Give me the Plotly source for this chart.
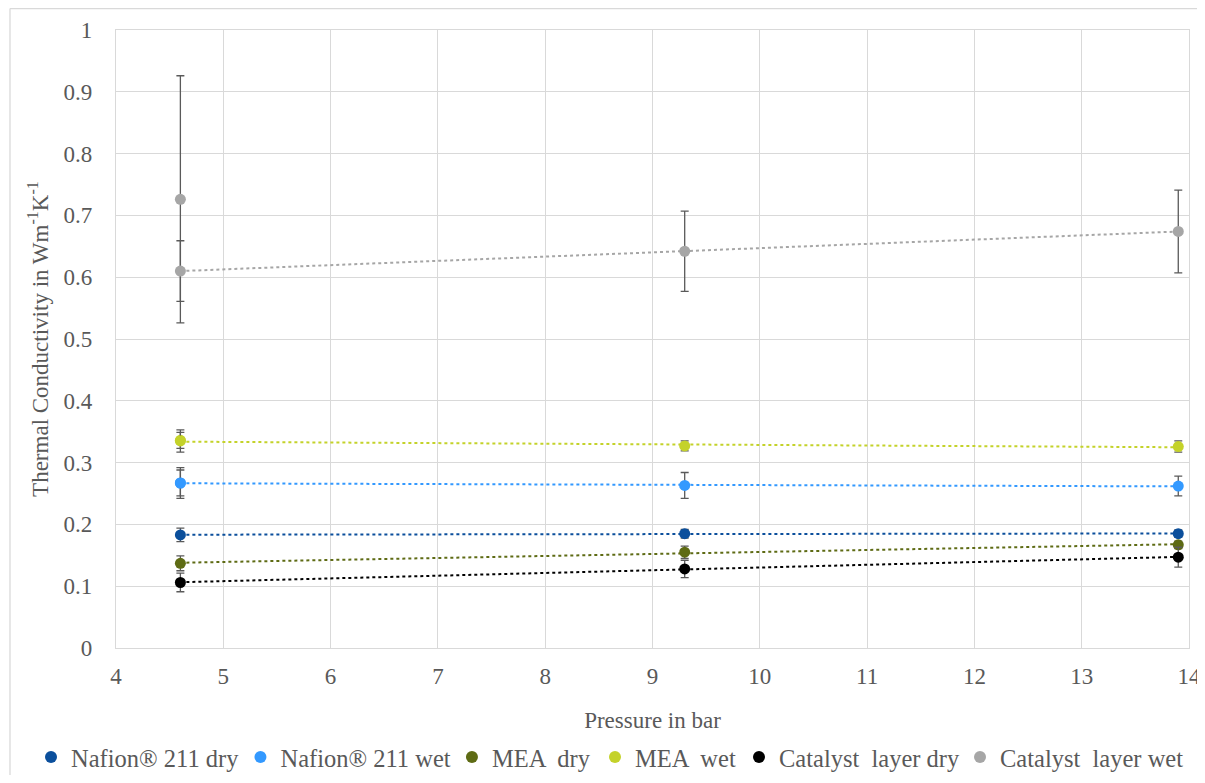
import numpy as np
import plotly.graph_objects as go

pressure = [4.6, 9.3, 13.9]

series_names = ["Nafion® 211 dry", "Nafion® 211 wet", "MEA  dry", "MEA  wet",
                "Catalyst  layer dry", "Catalyst  layer wet"]
colors = ["#0B4F9C", "#3399FF", "#5E6B14", "#C4D22A", "#000000", "#A6A6A6"]

nafion_dry = [0.183, 0.185, 0.185]
nafion_dry_err = [0.011, 0.007, 0.006]
nafion_wet = [0.267, 0.263, 0.262]
nafion_wet_err = [0.025, 0.021, 0.016]
mea_dry = [0.137, 0.155, 0.167]
mea_dry_err = [0.012, 0.010, 0.006]
mea_wet = [0.335, 0.327, 0.326]
mea_wet_err = [0.018, 0.008, 0.009]
cl_dry = [0.106, 0.128, 0.147]
cl_dry_err = [0.015, 0.014, 0.016]
cl_wet = [0.610, 0.642, 0.674]
cl_wet_err = [0.049, 0.065, 0.067]

# additional measurements at the lowest pressure (wet samples)
extra_x = [4.6]
extra_series = [1, 3, 5]          # index into series (Nafion wet, MEA wet, CL wet)
extra_vals = [0.267, 0.336, 0.726]
extra_errs = [0.021, 0.013, 0.200]

values = [nafion_dry, nafion_wet, mea_dry, mea_wet, cl_dry, cl_wet]
errors = [nafion_dry_err, nafion_wet_err, mea_dry_err, mea_wet_err, cl_dry_err, cl_wet_err]

# legend entry left positions (paper fraction), one legend box per entry
legend_x = [-0.0792, 0.1160, 0.3131, 0.4464, 0.5806, 0.7866]

font_family = "Liberation Serif"
text_color = "#595959"
err_color = "#5A5A5A"
grid_color = "#D9D9D9"

fig = go.Figure()

# linear trendlines (behind markers)
for vals, col in zip(values, colors):
    k, d = np.polyfit(pressure, vals, 1)
    xs = np.array([min(pressure), max(pressure)])
    fig.add_trace(go.Scatter(x=xs, y=k * xs + d, mode="lines",
                             line=dict(color=col, width=2, dash="dot"),
                             showlegend=False, hoverinfo="skip"))

for si, v, e in zip(extra_series, extra_vals, extra_errs):
    fig.add_trace(go.Scatter(x=extra_x, y=[v], mode="markers",
                             marker=dict(color=colors[si], size=11),
                             error_y=dict(type="data", array=[e], color=err_color,
                                          thickness=1.3, width=4),
                             showlegend=False))

legend_layouts = {}
for i, (name, vals, errs, col) in enumerate(zip(series_names, values, errors, colors)):
    lname = "legend" if i == 0 else f"legend{i + 1}"
    fig.add_trace(go.Scatter(x=pressure, y=vals, mode="markers", name=name,
                             marker=dict(color=col, size=11),
                             legend=lname,
                             error_y=dict(type="data", array=errs, color=err_color,
                                          thickness=1.3, width=4)))
    legend_layouts[lname] = dict(orientation="h", x=legend_x[i], xanchor="left",
                                 y=-0.1764, yanchor="middle", bgcolor="rgba(0,0,0,0)",
                                 font=dict(family=font_family, size=24.5, color=text_color),
                                 itemsizing="constant", itemwidth=30)

fig.update_layout(
    width=1197, height=767,
    margin=dict(l=108, r=16, t=22, b=127, autoexpand=False),
    paper_bgcolor="white", plot_bgcolor="white",
    font=dict(family=font_family, size=23, color=text_color),
    xaxis=dict(range=[4, 14], dtick=1, showgrid=True, gridcolor=grid_color, gridwidth=1.3,
               zeroline=False, showline=True, linecolor=grid_color, linewidth=1.3, mirror=True,
               ticks="", tickfont=dict(size=23), ticklabelstandoff=7, automargin=False,
               ticklabeloverflow="allow",
               title=dict(text="Pressure in bar", font=dict(size=23), standoff=24)),
    yaxis=dict(range=[0, 1], dtick=0.1, showgrid=True, gridcolor=grid_color, gridwidth=1.3,
               zeroline=False, showline=True, linecolor=grid_color, linewidth=1.3, mirror=True,
               ticks="", tickfont=dict(size=23), ticklabelstandoff=18, automargin=False,
               tickformat="~g",
               title=dict(text="Thermal Conductivity in Wm<sup>-1</sup>K<sup>-1</sup>",
                          font=dict(size=23), standoff=8)),
    showlegend=True,
    **legend_layouts,
)

# outer chart frame
fig.add_shape(type="line", xref="paper", yref="paper", x0=-0.0988, x1=-0.0988,
              y0=-0.3, y1=1.0348, line=dict(color=grid_color, width=1.3))
fig.add_shape(type="line", xref="paper", yref="paper", x0=-0.0988, x1=1.05,
              y0=1.0348, y1=1.0348, line=dict(color=grid_color, width=1.3))

fig.write_html("out.html")
